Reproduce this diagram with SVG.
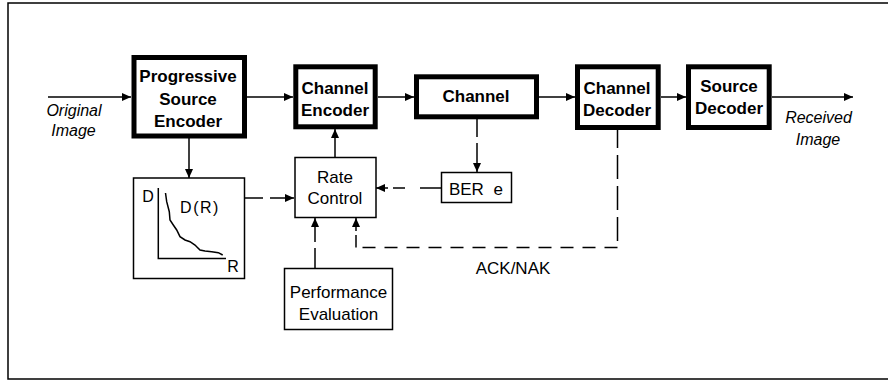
<svg xmlns="http://www.w3.org/2000/svg" width="888" height="381" viewBox="0 0 888 381">
<style>
.thick{fill:#fff;stroke:#000;stroke-width:5}
.thin{fill:#fff;stroke:#000;stroke-width:1.5}
.b{font-family:"Liberation Sans",Arial,sans-serif;font-weight:bold;font-size:17px;text-anchor:middle;fill:#000}
.r{font-family:"Liberation Sans",Arial,sans-serif;font-size:17px;text-anchor:middle;fill:#000}
.i{font-family:"Liberation Sans",Arial,sans-serif;font-style:italic;font-size:16px;text-anchor:middle;fill:#000}
.ln{fill:none;stroke:#000;stroke-width:1.5}
</style>
<defs>
<marker id="ah" markerUnits="userSpaceOnUse" markerWidth="10" markerHeight="9" refX="9" refY="4" orient="auto">
<path d="M0,0 L9,4 L0,8 z" fill="#000"/>
</marker>
</defs>
<rect x="8" y="3" width="900" height="376" fill="#fff" stroke="#000" stroke-width="1.5"/>

<g id="connectors">
<line class="ln" x1="48" y1="97" x2="131" y2="97" marker-end="url(#ah)"/>
<line class="ln" x1="247" y1="97" x2="293" y2="97" marker-end="url(#ah)"/>
<line class="ln" x1="378" y1="97" x2="414" y2="97" marker-end="url(#ah)"/>
<line class="ln" x1="539" y1="97" x2="575" y2="97" marker-end="url(#ah)"/>
<line class="ln" x1="661" y1="97" x2="686" y2="97" marker-end="url(#ah)"/>
<line class="ln" x1="772" y1="97" x2="853" y2="97" marker-end="url(#ah)"/>
<line class="ln" x1="189" y1="138" x2="189" y2="178" marker-end="url(#ah)"/>
<line class="ln" x1="335" y1="157" x2="335" y2="129" marker-end="url(#ah)"/>
<line class="ln" x1="245" y1="198" x2="263" y2="198"/>
<line class="ln" x1="270" y1="198" x2="294" y2="198" marker-end="url(#ah)"/>
<line class="ln" x1="477" y1="119" x2="477" y2="137"/>
<line class="ln" x1="477" y1="143" x2="477" y2="172" marker-end="url(#ah)"/>
<line class="ln" x1="441" y1="188" x2="420" y2="188"/>
<line class="ln" x1="405" y1="188" x2="393" y2="188"/>
<line class="ln" x1="388" y1="188" x2="376" y2="188" marker-end="url(#ah)"/>
<line class="ln" x1="315" y1="268" x2="315" y2="248"/>
<line class="ln" x1="315" y1="242" x2="315" y2="218" marker-end="url(#ah)"/>
<line class="ln" x1="617.5" y1="130" x2="617.5" y2="247.5" stroke-dasharray="18 7 24 7 24 7 24 7"/>
<line class="ln" x1="617.5" y1="247.5" x2="356" y2="247.5" stroke-dasharray="13 9"/>
<line class="ln" x1="356" y1="247.5" x2="356" y2="235"/>
<line class="ln" x1="356" y1="231" x2="356" y2="218" marker-end="url(#ah)"/>
</g>

<g id="progressive-source-encoder">
<rect class="thick" x="134" y="57.5" width="110.5" height="78.5"/>
<text class="b" x="188" y="82">Progressive</text>
<text class="b" x="188" y="105">Source</text>
<text class="b" x="188" y="127">Encoder</text>
</g>
<g id="channel-encoder">
<rect class="thick" x="295.8" y="66.8" width="79.4" height="60"/>
<text class="b" x="335" y="94">Channel</text>
<text class="b" x="335" y="116">Encoder</text>
</g>
<g id="channel">
<rect class="thick" x="416.5" y="76.8" width="120" height="40"/>
<text class="b" x="476" y="102">Channel</text>
</g>
<g id="channel-decoder">
<rect class="thick" x="577.5" y="66.8" width="80.7" height="60.7"/>
<text class="b" x="617" y="94">Channel</text>
<text class="b" x="617" y="116">Decoder</text>
</g>
<g id="source-decoder">
<rect class="thick" x="688.5" y="66.8" width="80.7" height="60.7"/>
<text class="b" x="729" y="92">Source</text>
<text class="b" x="729" y="114">Decoder</text>
</g>
<g id="rate-control">
<rect class="thin" x="295" y="157.5" width="81" height="60"/>
<text class="r" x="335" y="183">Rate</text>
<text class="r" x="335" y="204">Control</text>
</g>
<g id="dr-curve">
<rect class="thin" x="133.5" y="178" width="111" height="100.5"/>
<polyline class="ln" points="158.3,188 158.3,258.5 226,258.5"/>
<polyline class="ln" points="165.5,193 166.7,201.7 169.3,211.7 170,220 173.3,225 176.7,230 180,236.7 185,240 190,241.7 195,245 200,250 205,251 211.7,251.7 218.3,252.7 222.7,255"/>
<text class="r" x="148" y="202" style="font-size:16px">D</text>
<text class="r" x="200" y="212.5" style="font-size:16px;letter-spacing:1.5px">D(R)</text>
<text class="r" x="233" y="272" style="font-size:16px">R</text>
</g>
<g id="ber">
<rect class="thin" x="441.5" y="172.5" width="70" height="30"/>
<text class="r" x="476" y="195" style="word-spacing:5px">BER e</text>
</g>
<g id="performance-evaluation">
<rect class="thin" x="284.5" y="268.5" width="108" height="61"/>
<text class="r" x="338.5" y="298">Performance</text>
<text class="r" x="338.5" y="320">Evaluation</text>
</g>
<g id="labels">
<text class="i" x="74" y="116">Original</text>
<text class="i" x="73.5" y="136">Image</text>
<text class="i" x="818.5" y="123">Received</text>
<text class="i" x="818" y="145">Image</text>
<text class="r" x="513" y="274">ACK/NAK</text>
</g>
</svg>
